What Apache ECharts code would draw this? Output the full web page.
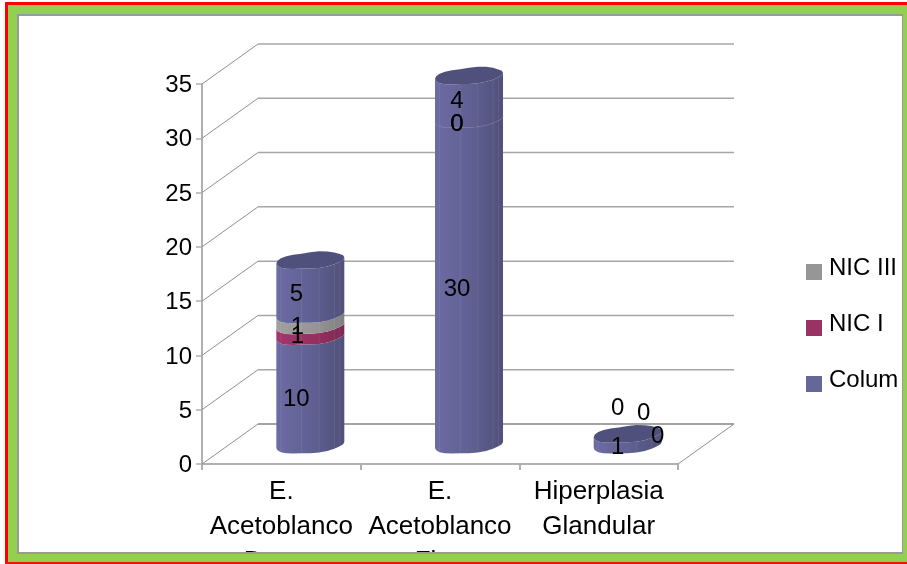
<!DOCTYPE html>
<html>
<head>
<meta charset="utf-8">
<style>html,body{margin:0;padding:0;background:#fff}#chart{width:907px;height:564px}</style>
<script src="https://cdn.jsdelivr.net/npm/echarts@6/dist/echarts.min.js"></script>
</head>
<body>
<div id="chart"></div>
<script>
// Category and tick labels
const categories = ['E.\nAcetoblanco\nDenso', 'E.\nAcetoblanco\nFino', 'Hiperplasia\nGlandular'];
const yTicks = [0, 5, 10, 15, 20, 25, 30, 35];

// Stacked values, bottom to top
const columValues = [10, 30, 1];
const nicIValues = [1, 0, 0];
const nicIIIValues = [1, 0, 0];
const upperValues = [5, 4, 0];
const stackOrder = [columValues, nicIValues, nicIIIValues, upperValues];
const seriesNames = ['Colum', 'NIC I', 'NIC III', 'Colum superior'];
const legendNames = ['NIC III', 'NIC I', 'Colum'];

// Colours per stack layer
const swatches = ['#666699', '#993366', '#969696', '#666699'];
const shades = [
  ['#6c6ca3', '#5f5f92', '#505079'],
  ['#a5356c', '#96305f', '#7c2a56'],
  ['#a0a0a0', '#969696', '#808080'],
  ['#6c6ca3', '#5f5f92', '#505079']
];
const capColor = '#50507c';
const gridColor = '#a6a6a6';
const axisColor = '#b0b0b0';

// Label offsets from the middle of each segment, [dx, dy] per category
const labelNudges = [
  [[-14, 9], [-12, 7], [-10, 8]],
  [[-13, 5], [-12, 5], [30, 2]],
  [[-13, 7], [-12, 5], [16, -21]],
  [[-14, 7], [-12, 4], [-10, -26]]
];

// Oblique projection of the chart box
const depth = { x: 56, y: -40 };
const barShift = { x: 29, y: -19 };
const ring = { a: 31.8, dx: 12, dy: -8.5 };
const ringWobble = [0, 0.4, 0.7, 0.6, 0.2, -0.3, 0.2, 0.6, 0.6, 0.3, -0.1, 0.2, 0];
const facetStops = [0.17, 0.42, 0.58, 0.75, 0.83];
const font = '24px "Liberation Sans", Arial, sans-serif';

const t0 = Math.atan2(ring.dx, ring.a);

// Points along the near or far half of a ring, both listed left to right
function halfRing(cx, cy, far) {
  const steps = ringWobble.length - 1;
  const pts = [];
  for (let i = 0; i <= steps; i++) {
    const f = i / steps;
    const t = far ? t0 + Math.PI - f * Math.PI : t0 + Math.PI + f * Math.PI;
    pts.push([
      cx + ring.a * Math.cos(t) + ring.dx * Math.sin(t),
      cy + ring.dy * Math.sin(t) + ringWobble[i] * (far ? -1 : 1)
    ]);
  }
  return pts;
}

function stackBase(layer, cat) {
  let sum = 0;
  for (let i = 0; i < layer; i++) sum += stackOrder[i][cat];
  return sum;
}

function levelPoint(api, cat, value) {
  const p = api.coord([cat, value]);
  return [p[0] + barShift.x, p[1] + barShift.y];
}

// One layer of a cylinder: body, plus the cap and facets on the last layer
function cylinderLayer(layer) {
  return function (params, api) {
    const cat = api.value(0);
    const value = api.value(1);
    const base = stackBase(layer, cat);
    const low = levelPoint(api, cat, base);
    const high = levelPoint(api, cat, base + value);
    const near = halfRing(low[0], low[1], false);
    const nearTop = halfRing(high[0], high[1], false);
    const children = [];
    if (value > 0) {
      children.push({
        type: 'polygon',
        shape: { points: near.concat(nearTop.slice().reverse()) },
        style: {
          fill: new echarts.graphic.LinearGradient(0, 0, 1, 0, [
            { offset: 0, color: shades[layer][0] },
            { offset: 0.55, color: shades[layer][1] },
            { offset: 1, color: shades[layer][2] }
          ])
        }
      });
    } else if (cat === 1) {
      children.push({
        type: 'polyline',
        shape: { points: nearTop },
        style: { stroke: swatches[layer], lineWidth: 1, opacity: 0.35, fill: null }
      });
    }
    if (layer === stackOrder.length - 1) {
      const floor = levelPoint(api, cat, 0);
      const floorRing = halfRing(floor[0], floor[1], false);
      facetStops.forEach(function (stop) {
        const idx = Math.round(stop * (ringWobble.length - 1));
        children.push({
          type: 'line',
          shape: { x1: floorRing[idx][0], y1: floorRing[idx][1], x2: nearTop[idx][0], y2: nearTop[idx][1] },
          style: { stroke: '#ffffff', lineWidth: 1, opacity: 0.07 }
        });
      });
      children.push({
        type: 'polygon',
        shape: { points: nearTop.concat(halfRing(high[0], high[1], true).reverse()) },
        style: { fill: capColor }
      });
    }
    return { type: 'group', children: children };
  };
}

// Value written over the middle of a segment
function segmentLabel(layer) {
  return function (params, api) {
    const cat = api.value(0);
    const value = api.value(1);
    const mid = levelPoint(api, cat, stackBase(layer, cat) + value / 2);
    const nudge = labelNudges[layer][cat];
    return {
      type: 'text',
      style: {
        text: String(value),
        x: mid[0] + nudge[0],
        y: mid[1] + nudge[1],
        align: 'center',
        verticalAlign: 'middle',
        fill: '#000',
        font: font
      }
    };
  };
}

// Receding grid lines on the wall and the outline of the floor
function wallLine(params, api) {
  const box = params.coordSys;
  const value = api.value(1);
  const y = api.coord([0, value])[1];
  const x = box.x;
  const stroke = value === 0 ? '#858585' : gridColor;
  const children = [
    { type: 'line', shape: { x1: x, y1: y, x2: x + depth.x, y2: y + depth.y }, style: { stroke: '#909090', lineWidth: 1 } },
    { type: 'line', shape: { x1: x + depth.x, y1: y + depth.y, x2: x + box.width + depth.x, y2: y + depth.y }, style: { stroke: stroke, lineWidth: 1.5 } }
  ];
  if (value === 0) {
    children.push({
      type: 'line',
      shape: { x1: x + box.width, y1: y, x2: x + box.width + depth.x, y2: y + depth.y },
      style: { stroke: '#909090', lineWidth: 1 }
    });
  }
  return { type: 'group', children: children };
}

const series = [{
  type: 'custom',
  name: 'pared',
  silent: true,
  z: 1,
  renderItem: wallLine,
  data: yTicks.map(function (v) { return [0, v]; })
}];
stackOrder.forEach(function (values, layer) {
  const points = values.map(function (v, i) { return [i, v]; });
  series.push({
    type: 'custom',
    name: seriesNames[layer],
    silent: true,
    z: 3 + layer,
    itemStyle: { color: swatches[layer] },
    renderItem: cylinderLayer(layer),
    data: points
  });
  series.push({
    type: 'custom',
    name: seriesNames[layer] + ' valores',
    silent: true,
    z: 20,
    renderItem: segmentLabel(layer),
    data: points
  });
});

// Page frame: red rule, green band, grey inner edge
const frame = [
  { type: 'rect', z: 100, shape: { x: 5, y: 2, width: 902, height: 3 }, style: { fill: '#ff0000' } },
  { type: 'rect', z: 100, shape: { x: 5, y: 2, width: 3, height: 562 }, style: { fill: '#ff0000' } },
  { type: 'rect', z: 100, shape: { x: 5, y: 562, width: 902, height: 2 }, style: { fill: '#ee1111' } },
  { type: 'rect', z: 99, shape: { x: 8, y: 5, width: 899, height: 9 }, style: { fill: '#92d050' } },
  { type: 'rect', z: 99, shape: { x: 8, y: 5, width: 9, height: 557 }, style: { fill: '#92d050' } },
  { type: 'rect', z: 99, shape: { x: 903, y: 5, width: 4, height: 557 }, style: { fill: '#92d050' } },
  { type: 'rect', z: 99, shape: { x: 8, y: 554, width: 899, height: 8 }, style: { fill: '#92d050' } },
  { type: 'rect', z: 99, shape: { x: 17, y: 14, width: 886, height: 2 }, style: { fill: '#9a9a9a' } },
  { type: 'rect', z: 99, shape: { x: 17, y: 14, width: 2, height: 540 }, style: { fill: '#9a9a9a' } },
  { type: 'rect', z: 99, shape: { x: 902, y: 14, width: 1, height: 540 }, style: { fill: '#9a9a9a' } },
  { type: 'rect', z: 99, shape: { x: 17, y: 552, width: 886, height: 2 }, style: { fill: '#9a9a9a' } }
];

const chart = echarts.init(document.getElementById('chart'), null, { renderer: 'canvas' });
chart.setOption({
  animation: false,
  backgroundColor: '#ffffff',
  textStyle: { fontFamily: '"Liberation Sans", Arial, sans-serif' },
  graphic: { elements: frame },
  grid: { left: 202, top: 84, width: 476, height: 380, outerBoundsMode: 'none' },
  legend: {
    data: legendNames,
    orient: 'vertical',
    left: 806,
    top: 256,
    icon: 'rect',
    itemWidth: 16,
    itemHeight: 16,
    itemGap: 26,
    selectedMode: false,
    padding: 0,
    // The empty second line lifts each name a little above its swatch
    formatter: function (name) { return '{t|' + name + '}\n{s| }'; },
    textStyle: {
      color: '#000',
      padding: [0, 0, 0, 2],
      rich: {
        t: { fontSize: 24, lineHeight: 24, color: '#000' },
        s: { fontSize: 4, lineHeight: 8 }
      }
    }
  },
  xAxis: {
    type: 'category',
    data: categories,
    axisLine: { lineStyle: { color: axisColor, width: 2 } },
    axisTick: { show: true, length: 6, lineStyle: { color: axisColor, width: 2 } },
    axisLabel: { color: '#000', fontSize: 26, lineHeight: 35, margin: 10, interval: 0, hideOverlap: false },
    splitLine: { show: false }
  },
  yAxis: {
    type: 'value',
    min: 0,
    max: 35,
    interval: 5,
    axisLine: { show: true, lineStyle: { color: axisColor, width: 2 } },
    axisTick: { show: true, length: 6, lineStyle: { color: axisColor, width: 1.5 } },
    axisLabel: { color: '#000', fontSize: 24, margin: 10, verticalAlign: 'top', lineHeight: 3 },
    splitLine: { show: false }
  },
  series: series
});
</script>
</body>
</html>
